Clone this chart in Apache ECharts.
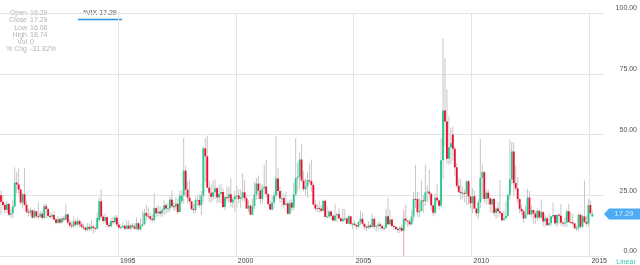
<!DOCTYPE html>
<html><head><meta charset="utf-8">
<script src="https://cdn.jsdelivr.net/npm/echarts@6/dist/echarts.min.js"></script>
<style>html,body{margin:0;padding:0;background:#fff}#c{width:640px;height:265px}</style>
</head><body><div id="c"></div>
<script>
// Monthly *VIX candles, Jan 1990 .. Feb 2015 (one row per year)
const firstYear = 1990;
const open = [
 25.0,22.3,21.0,19.0,21.4,17.0,17.6,20.4,30.2,29.4,27.3,22.0,
 25.4,21.1,18.2,17.9,18.8,15.8,18.4,16.4,16.2,17.4,15.7,20.5,
 19.3,16.5,16.2,16.9,15.0,13.7,15.1,13.8,15.5,15.0,17.1,13.8,
 12.6,12.4,14.2,12.9,14.4,13.0,12.0,11.6,10.7,12.0,11.2,12.2,
 11.6,11.2,14.8,22.5,16.2,14.4,16.0,12.8,12.2,14.4,13.9,15.8,
 12.9,11.7,11.9,12.4,11.2,12.5,11.3,12.6,12.1,11.2,13.5,11.0,
 12.5,13.1,17.7,16.6,16.4,15.3,14.8,19.7,17.6,18.3,17.5,18.9,
 20.9,19.5,19.6,23.2,20.5,20.3,21.5,18.1,22.5,25.0,35.1,27.3,
 24.0,22.5,19.3,18.9,22.9,23.1,20.9,24.9,44.3,41.0,28.1,26.0,
 24.4,26.3,27.9,24.1,25.5,26.3,20.2,24.2,23.9,25.4,22.1,23.3,
 24.6,24.9,23.5,24.1,26.2,23.7,19.5,20.7,17.0,20.6,25.3,29.8,
 26.9,23.5,27.7,28.6,25.5,21.4,19.1,22.0,24.9,31.9,26.8,23.8,
 23.8,21.1,21.6,17.4,21.9,19.9,25.4,32.0,32.6,39.7,31.1,27.5,
 28.6,31.2,30.8,29.2,21.2,19.5,19.7,19.5,18.6,22.7,16.1,16.3,
 18.3,16.6,14.6,16.7,17.2,15.5,14.3,15.3,15.5,13.3,16.3,13.2,
 13.3,12.8,12.1,14.0,15.3,13.3,12.0,11.6,12.6,11.9,15.3,12.1,
 12.4,13.0,12.3,11.4,11.6,16.4,13.1,15.0,12.3,12.0,11.1,10.9,
 11.6,10.4,15.4,14.6,14.2,13.05,16.2,23.5,23.4,18.0,18.5,22.9,
 22.5,26.2,26.5,25.6,20.8,17.8,24.0,22.9,20.65,39.4,59.9,55.3,
 40.0,44.8,50.0,44.1,36.5,28.9,26.4,25.9,26.0,25.6,30.7,24.5,
 21.7,24.6,19.5,17.6,22.05,32.1,34.5,23.5,26.05,23.7,21.2,23.5,
 17.75,19.5,18.35,17.7,14.75,15.45,16.5,25.25,31.6,43.0,30.0,27.8,
 23.4,19.4,18.4,15.5,17.15,24.06,17.08,18.93,17.47,15.73,18.6,15.87,
 18.02,14.28,15.51,12.7,13.52,16.3,16.86,13.45,17.01,16.6,13.75,13.7,
 13.72,18.41,14.0,13.88,13.41,11.4,11.57,16.95,12.09,16.31,14.03,13.33,
 21.0,16.29
];
const high = [
 27.0,25.0,22.0,22.5,22.0,19.5,23.0,36.5,34.5,36.0,28.0,26.0,
 36.2,22.5,19.5,20.0,19.0,19.6,18.6,22.3,18.5,18.5,21.5,21.6,
 19.8,17.8,17.9,18.5,15.6,16.4,15.9,16.4,16.6,21.6,17.6,15.1,
 14.3,16.3,15.0,15.8,15.2,13.8,13.4,12.3,13.6,13.4,14.8,12.6,
 12.0,18.2,24.0,27.5,17.0,17.5,16.3,13.9,15.7,16.1,16.9,16.7,
 14.2,12.9,13.7,12.9,14.6,14.6,13.3,13.5,13.4,15.9,13.8,15.6,
 18.6,19.5,21.2,20.0,17.9,17.2,26.0,20.3,20.9,20.5,19.8,23.0,
 21.8,21.9,24.6,27.0,22.1,24.2,23.7,27.0,27.0,48.6,37.0,30.5,
 31.3,22.8,21.5,24.2,24.9,25.4,26.8,45.0,48.5,49.5,31.0,29.5,
 31.0,31.5,28.3,29.3,29.8,28.0,24.8,28.3,28.7,32.0,24.2,26.8,
 28.8,27.5,27.3,34.0,31.3,25.0,22.9,21.4,23.5,30.6,32.1,33.2,
 30.0,29.6,37.5,39.5,25.9,23.2,24.8,26.5,49.4,36.0,28.5,27.0,
 25.5,26.5,22.5,23.3,23.2,30.3,48.5,38.2,42.5,46.1,35.0,31.8,
 34.5,38.2,39.7,30.0,23.0,21.5,22.8,21.0,23.2,22.9,20.5,19.0,
 18.8,17.2,21.6,17.8,19.8,16.0,19.5,19.3,15.5,17.0,16.5,13.6,
 14.7,12.9,14.5,18.6,17.8,13.4,12.7,14.4,13.4,17.3,15.6,12.8,
 14.2,14.0,13.0,12.8,19.4,23.8,19.0,15.2,13.0,12.5,11.9,12.4,
 12.8,19.0,21.0,14.8,15.0,19.0,26.5,37.5,26.5,23.9,31.1,25.0,
 37.6,29.0,35.6,26.0,21.4,25.5,29.6,23.2,48.4,89.5,81.5,68.6,
 57.4,52.7,53.2,45.0,38.2,32.3,31.7,28.7,27.3,31.3,31.2,25.0,
 28.0,26.9,19.8,23.4,48.2,37.6,35.0,27.5,27.5,24.2,23.6,23.9,
 20.1,22.1,31.3,17.9,18.8,22.7,25.4,48.0,46.9,46.9,37.2,32.5,
 23.8,21.2,18.9,20.7,27.7,26.7,21.0,19.0,18.5,19.5,19.0,23.2,
 18.5,16.9,16.0,17.6,16.6,21.9,16.9,17.1,17.6,21.3,14.2,16.1,
 19.2,21.5,18.2,17.3,13.6,12.6,17.6,17.3,16.7,31.06,16.7,23.5,
 22.8,18.74
];
const low = [
 17.0,19.5,17.6,17.8,16.5,15.5,15.7,19.8,25.6,25.4,21.0,19.5,
 20.5,17.5,16.3,16.5,15.3,15.6,15.5,15.5,15.7,15.0,15.2,15.6,
 15.6,15.2,15.3,14.6,13.1,13.0,13.1,13.4,14.1,14.6,13.1,11.7,
 11.2,11.5,11.8,12.2,11.7,11.4,10.7,10.2,10.2,10.3,10.5,9.3,
 9.9,11.0,13.9,15.3,13.3,13.3,12.0,11.7,11.8,12.9,13.2,11.9,
 11.0,10.7,11.5,10.5,10.8,10.9,10.6,11.3,10.8,10.6,10.5,10.4,
 11.8,12.6,14.5,15.1,14.6,13.7,14.1,16.2,16.3,16.3,16.0,16.8,
 17.3,17.8,18.3,19.7,18.6,18.8,17.1,18.0,21.5,21.5,24.5,21.6,
 21.7,18.8,17.4,17.6,20.5,19.9,16.8,22.3,30.5,28.0,22.2,21.9,
 22.9,23.5,21.6,21.8,21.8,19.7,18.9,22.4,21.9,20.3,19.9,18.1,
 19.7,21.7,19.9,22.5,22.4,19.4,18.0,16.8,16.8,19.3,23.3,23.3,
 21.2,21.6,25.5,24.1,20.6,19.0,18.6,19.4,23.5,25.0,22.0,20.3,
 19.5,20.5,17.1,16.9,18.3,18.8,24.5,26.5,27.5,30.4,26.5,25.0,
 23.8,29.8,26.5,20.7,18.6,18.1,17.9,18.0,18.2,16.0,15.6,15.6,
 14.9,14.5,14.2,14.1,15.2,14.0,14.2,14.4,13.2,13.1,12.6,11.1,
 12.2,10.7,11.3,12.8,12.5,10.6,10.2,11.1,11.2,11.7,10.8,10.2,
 10.9,11.1,10.5,10.4,10.9,12.7,12.6,11.6,10.6,10.6,9.4,9.4,
 9.9,0.0,12.9,12.0,12.1,12.7,14.2,19.8,16.1,15.9,18.4,17.9,
 20.6,22.2,22.9,18.8,16.3,17.0,21.6,19.1,20.2,31.7,45.0,38.0,
 37.6,37.7,39.2,33.1,27.9,25.6,23.0,23.6,22.1,20.9,21.0,19.5,
 17.6,19.4,16.2,15.2,19.6,23.7,22.0,21.1,21.3,18.0,17.5,16.5,
 15.4,15.9,16.8,14.3,14.5,15.4,16.0,23.3,29.3,24.9,26.8,21.8,
 17.6,16.9,13.7,15.1,16.7,16.8,15.7,13.3,13.3,14.5,15.0,15.2,
 12.3,11.9,12.2,12.3,12.3,15.4,12.7,11.9,13.0,12.6,11.9,12.2,
 11.8,13.6,13.4,12.7,11.1,10.3,10.3,11.2,11.5,13.6,12.4,11.9,
 16.6,16.06
];
const close = [
 22.3,21.0,19.0,21.4,17.0,17.6,20.4,30.2,29.4,27.3,22.0,25.4,
 21.1,18.2,17.9,18.8,15.8,18.4,16.4,16.2,17.4,15.7,20.5,19.3,
 16.5,16.2,16.9,15.0,13.7,15.1,13.8,15.5,15.0,17.1,13.8,12.6,
 12.4,14.2,12.9,14.4,13.0,12.0,11.6,10.7,12.0,11.2,12.2,11.6,
 11.2,15.6,22.5,16.2,14.4,16.0,12.8,12.2,14.4,13.9,15.8,12.9,
 11.7,11.9,12.4,11.2,12.5,11.3,12.6,12.1,11.2,13.5,11.0,12.5,
 13.1,17.7,16.6,16.4,15.3,14.8,19.7,17.6,18.3,17.5,18.9,20.9,
 19.5,19.6,23.2,20.5,20.3,21.5,18.1,24.8,25.0,35.1,27.3,24.0,
 22.5,19.3,18.9,22.9,23.1,20.9,24.9,44.3,41.0,28.1,26.0,24.4,
 26.3,27.9,24.1,25.5,26.3,20.2,24.2,23.9,25.4,22.1,23.3,24.6,
 24.9,23.5,24.1,26.2,23.7,19.5,20.7,17.0,20.6,25.3,29.8,26.9,
 23.5,27.7,28.6,25.5,21.4,19.1,22.0,24.9,31.9,26.8,23.8,23.8,
 21.1,21.6,17.4,21.9,19.9,25.4,32.0,32.6,39.7,31.1,27.5,28.6,
 31.2,30.8,29.2,21.2,19.5,19.7,19.5,18.6,22.7,16.1,16.3,18.3,
 16.6,14.6,16.7,17.2,15.5,14.3,15.3,15.5,13.3,16.3,13.2,13.3,
 12.8,12.1,14.0,15.3,13.3,12.0,11.6,12.6,11.9,15.3,12.1,12.4,
 13.0,12.3,11.4,11.6,16.4,13.1,15.0,12.3,12.0,11.1,10.9,11.6,
 10.4,15.4,14.6,14.2,13.05,16.2,23.5,23.4,18.0,18.5,22.9,22.5,
 26.2,26.5,25.6,20.8,17.8,24.0,22.9,20.65,39.4,59.9,55.3,40.0,
 44.8,46.4,44.1,36.5,28.9,26.4,25.9,26.0,25.6,30.7,24.5,21.7,
 24.6,19.5,17.6,22.05,32.1,34.5,23.5,26.05,23.7,21.2,23.5,17.75,
 19.5,18.35,17.7,14.75,15.45,16.5,25.25,31.6,43.0,30.0,27.8,23.4,
 19.4,18.4,15.5,17.15,24.06,17.08,18.93,17.47,15.73,18.6,15.87,18.02,
 14.28,15.51,12.7,13.52,16.3,16.86,13.45,17.01,16.6,13.75,13.7,13.72,
 18.41,14.0,13.88,13.41,11.4,11.57,16.95,12.09,16.31,14.03,13.33,20.9,
 17.6,17.29
];
const symbolName = '*VIX';
const infoLabels = ['Open', 'Close', 'Low', 'High', 'Vol', '% Chg'];
const infoValues = ['16.29', '17.29', '16.06', '18.74', '0', '-31.82%'];
const scaleName = 'Linear';

const UP = '#2ac68c', DOWN = '#e8112d', WICK = '#c6c6c6', BAD_WICK = '#f3a3b4';
const lastClose = close[close.length - 1];

const candles = open.map((o, i) => [firstYear + (i + 0.5) / 12, o, close[i], low[i], high[i]]);

const chart = echarts.init(document.getElementById('c'), null, {renderer: 'canvas'});

const graphic = [];
infoLabels.forEach((lab, i) => {
  const y = 13 + i * 7.3;
  graphic.push({type: 'text', x: 27, y: y, style: {text: lab, fill: '#b4b4b4', font: '7px "Liberation Sans", Arial, sans-serif', textAlign: 'right', textVerticalAlign: 'middle'}});
  graphic.push({type: 'text', x: 30, y: y, style: {text: infoValues[i], fill: '#b4b4b4', font: '7px "Liberation Sans", Arial, sans-serif', textAlign: 'left', textVerticalAlign: 'middle'}});
});
graphic.push({type: 'text', x: 100, y: 13, style: {text: symbolName + ' ' + lastClose.toFixed(2), fill: '#555', font: '7px "Liberation Sans", Arial, sans-serif', textAlign: 'center', textVerticalAlign: 'middle'}});
graphic.push({type: 'line', shape: {x1: 78, y1: 19.5, x2: 122, y2: 19.5}, style: {stroke: '#2a8fe0', lineWidth: 1.5}});
graphic.push({type: 'text', x: 626, y: 262, style: {text: scaleName, fill: '#3cc2b0', font: '7px "Liberation Sans", Arial, sans-serif', textAlign: 'center', textVerticalAlign: 'middle'}});

const xMax = 2015.62;

chart.setOption({
  animation: false,
  backgroundColor: '#fff',
  grid: {left: 0, right: 35, top: 13, bottom: 8},
  xAxis: {
    type: 'value', min: firstYear, max: xMax, interval: 5,
    axisLine: {show: false}, axisTick: {show: false},
    splitLine: {show: true, showMinLine: false, showMaxLine: false, lineStyle: {color: '#e4e4e4', width: 1}},
    axisLabel: {
      showMinLabel: false, showMaxLabel: false, align: 'left', margin: 2, padding: [0, 0, 0, 2],
      fontSize: 7, color: '#444', fontFamily: '"Liberation Sans", Arial, sans-serif',
      formatter: v => String(Math.round(v))
    }
  },
  yAxis: {
    type: 'value', position: 'right', min: 0, max: 100, interval: 25,
    axisLine: {show: false}, axisTick: {show: false},
    splitLine: {show: true, lineStyle: {color: '#e4e4e4', width: 1}},
    axisLabel: {
      align: 'right', verticalAlign: 'bottom', margin: 33, padding: [0, 0, 1, 0],
      fontSize: 7, color: '#555', fontFamily: '"Liberation Sans", Arial, sans-serif',
      formatter: v => v.toFixed(2)
    }
  },
  graphic: graphic,
  series: [
    {
      type: 'custom',
      data: candles,
      encode: {x: 0, y: [1, 2, 3, 4]},
      clip: true,
      renderItem: function (params, api) {
        const x = api.value(0), o = api.value(1), c = api.value(2), l = api.value(3), h = api.value(4);
        const pH = api.coord([x, h]), pL = api.coord([x, l]);
        const pO = api.coord([x, o]), pC = api.coord([x, c]);
        const w = api.size([1 / 12, 0])[0];
        const bw = Math.max(1.8, w * 0.95);
        const top = Math.min(pO[1], pC[1]), bot = Math.max(pO[1], pC[1]);
        const up = c >= o;
        return {
          type: 'group',
          children: [
            {type: 'line', shape: {x1: pH[0], y1: pH[1], x2: pL[0], y2: pL[1]},
             style: {stroke: l <= 0.5 ? BAD_WICK : WICK, lineWidth: 1}},
            {type: 'rect', shape: {x: pO[0] - bw / 2, y: top, width: bw, height: Math.max(1, bot - top)},
             style: {fill: up ? UP : DOWN}}
          ]
        };
      }
    },
    {
      type: 'scatter',
      clip: false,
      data: [[xMax, lastClose]],
      symbol: 'path://M0,5 L5,0 L36,0 L36,10 L5,10 Z',
      symbolSize: [36, 11],
      symbolOffset: [18, 0],
      itemStyle: {color: '#2196f3'},
      label: {show: true, position: 'inside', offset: [2, 0], color: '#fff', fontSize: 7.5,
              fontFamily: '"Liberation Sans", Arial, sans-serif', formatter: () => lastClose.toFixed(2)},
      z: 5
    }
  ]
});
</script></body></html>
